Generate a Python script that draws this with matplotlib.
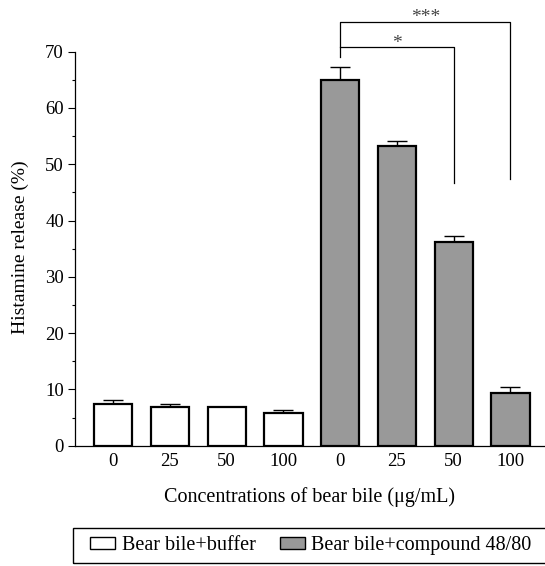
import matplotlib
matplotlib.use("Agg")
import matplotlib.pyplot as plt
from matplotlib.patches import Patch, Rectangle
from matplotlib.ticker import MultipleLocator

plt.rcParams['font.family'] = ['Liberation Serif', 'DejaVu Serif']

# ---- data ----
concentrations = ["0", "25", "50", "100"]
buffer_vals = [7.45, 6.87, 6.9, 5.86]
buffer_err = [0.75, 0.45, 0.05, 0.48]
compound_vals = [64.9, 53.2, 36.2, 9.4]
compound_err = [2.4, 1.0, 1.0, 1.1]
series_labels = ["Bear bile+buffer", "Bear bile+compound 48/80"]
sig_labels = ["*", "***"]

fig = plt.figure(figsize=(5.45, 5.66), dpi=100)
ax = fig.add_axes([75/545, 1-445.7/566, 1-75/545, (445.7-51.6)/566])

n = len(concentrations)
x_buf = list(range(n))
x_cmp = [i + n for i in range(n)]
width = 0.675

ax.bar(x_buf, buffer_vals, width=width, color='white', edgecolor='black', linewidth=1.6, zorder=3)
ax.bar(x_cmp, compound_vals, width=width, color='#999999', edgecolor='black', linewidth=1.6, zorder=3)
ax.errorbar(x_buf, buffer_vals, yerr=[[0]*n, buffer_err], fmt='none', ecolor='black',
            elinewidth=1.0, capsize=7.2, capthick=1.0, zorder=2)
ax.errorbar(x_cmp, compound_vals, yerr=[[0]*n, compound_err], fmt='none', ecolor='black',
            elinewidth=1.0, capsize=7.2, capthick=1.0, zorder=2)

ax.set_xlim(-0.673, 7.609)
ax.set_ylim(0, 70)
ax.set_xticks(x_buf + x_cmp)
ax.set_xticklabels(concentrations + concentrations, fontsize=13.5)
ax.tick_params(axis='x', length=0, pad=5)
ax.yaxis.set_major_locator(MultipleLocator(10))
ax.yaxis.set_minor_locator(MultipleLocator(5))
ax.tick_params(axis='y', which='major', length=5, width=0.8, labelsize=13.5, pad=3)
ax.tick_params(axis='y', which='minor', length=2.5, width=0.8)
for s in ['top', 'right']:
    ax.spines[s].set_visible(False)
ax.spines['left'].set_linewidth(0.9)
ax.spines['bottom'].set_linewidth(0.9)

ax.set_ylabel("Histamine release (%)", fontsize=14)
ax.yaxis.set_label_coords(-0.117, 0.503)
ax.yaxis.label.set_va('center')
ax.set_xlabel("Concentrations of bear bile (μg/mL)", fontsize=14.5)
ax.xaxis.set_label_coords(0.5, -0.130)
ax.xaxis.label.set_va('center')

# significance brackets
ref = x_cmp[0]
ax.plot([ref, ref, x_cmp[3], x_cmp[3]], [69.0, 75.3, 75.3, 47.3], color='black', lw=0.9,
        clip_on=False, zorder=4)
ax.plot([ref, x_cmp[2], x_cmp[2]], [70.9, 70.9, 46.6], color='black', lw=0.9,
        clip_on=False, zorder=4)
ax.text((ref + x_cmp[2]) / 2, 70.0, sig_labels[0], ha='center', va='bottom', fontsize=14,
        color='#444444', clip_on=False)
ax.text((ref + x_cmp[3]) / 2, 74.6, sig_labels[1], ha='center', va='bottom', fontsize=14,
        color='#444444', clip_on=False)

# legend (frame drawn separately so it runs off the right edge like the original)
handles = [Patch(facecolor='white', edgecolor='black', linewidth=1.0),
           Patch(facecolor='#999999', edgecolor='black', linewidth=1.0)]
leg = fig.legend(handles, series_labels, loc='center left',
                 bbox_to_anchor=(90/545, 1-545.5/566), ncol=2, fontsize=14.5,
                 frameon=False, borderaxespad=0, borderpad=0, handlelength=1.24,
                 handleheight=0.6, handletextpad=0.33, columnspacing=1.2)
fig.add_artist(Rectangle((73.3/545, 1-563.3/566), (620-73.3)/545, 35.6/566,
                         transform=fig.transFigure, fill=False, edgecolor='black',
                         linewidth=1.0))

fig.savefig("out.png", dpi=100)
